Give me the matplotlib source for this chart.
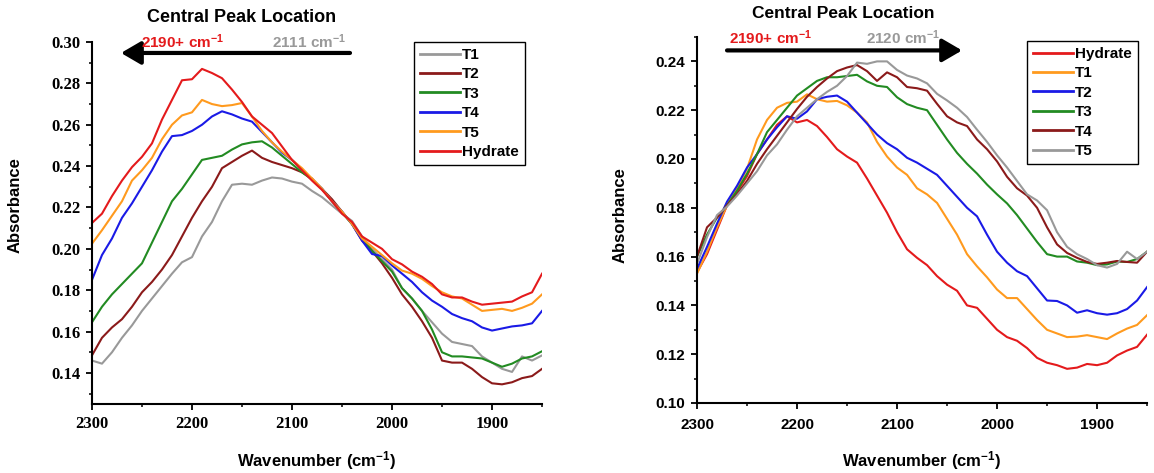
import numpy as np
import matplotlib
matplotlib.use("Agg")
import matplotlib.pyplot as plt
from matplotlib.ticker import MultipleLocator

plt.rcParams['font.family'] = ['Liberation Sans', 'DejaVu Sans']
plt.rcParams['mathtext.default'] = 'regular'

# wavenumber sampling (cm-1), same for all traces
wn = np.arange(2300, 1845, -10)

# ---- left panel ----
L_T1 = [.1460, .1445, .1500, .1570, .1630, .1700, .1760, .1820, .1880, .1935,
        .1960, .2060, .2130, .2230, .2310, .2315, .2310, .2330, .2345, .2340,
        .2325, .2315, .2280, .2250, .2210, .2170, .2135, .2060, .2000, .1950,
        .1900, .1810, .1760, .1700, .1645, .1590, .1550, .1540, .1530, .1480,
        .1450, .1420, .1405, .1480, .1460, .1485]
L_T2 = [.1485, .1570, .1620, .1660, .1720, .1790, .1840, .1900, .1970, .2060,
        .2150, .2230, .2300, .2390, .2420, .2450, .2475, .2440, .2420, .2405,
        .2390, .2370, .2340, .2290, .2240, .2180, .2120, .2040, .1990, .1930,
        .1860, .1780, .1720, .1650, .1570, .1460, .1450, .1450, .1420, .1380,
        .1350, .1345, .1355, .1375, .1385, .1420]
L_T3 = [.1645, .1720, .1780, .1830, .1880, .1930, .2030, .2130, .2230, .2290,
        .2360, .2430, .2440, .2450, .2480, .2505, .2515, .2520, .2490, .2450,
        .2410, .2370, .2335, .2290, .2230, .2175, .2120, .2050, .1990, .1940,
        .1890, .1810, .1760, .1700, .1610, .1500, .1480, .1480, .1475, .1470,
        .1450, .1430, .1445, .1470, .1480, .1505]
L_T4 = [.1850, .1970, .2050, .2150, .2220, .2300, .2380, .2470, .2545, .2550,
        .2570, .2600, .2640, .2665, .2650, .2630, .2615, .2565, .2515, .2465,
        .2430, .2385, .2335, .2290, .2230, .2180, .2120, .2040, .1975, .1965,
        .1920, .1880, .1840, .1790, .1750, .1720, .1685, .1665, .1650, .1620,
        .1605, .1615, .1625, .1630, .1640, .1700]
L_T5 = [.2025, .2090, .2160, .2230, .2330, .2380, .2440, .2530, .2600, .2645,
        .2660, .2720, .2700, .2690, .2695, .2705, .2640, .2570, .2515, .2470,
        .2430, .2390, .2340, .2290, .2230, .2180, .2120, .2050, .2010, .1970,
        .1930, .1895, .1880, .1855, .1820, .1790, .1770, .1760, .1730, .1700,
        .1705, .1710, .1700, .1715, .1735, .1780]
L_Hyd = [.2125, .2170, .2255, .2330, .2395, .2445, .2510, .2625, .2720, .2815,
         .2820, .2870, .2850, .2825, .2770, .2710, .2640, .2600, .2560, .2495,
         .2430, .2380, .2330, .2285, .2230, .2170, .2130, .2060, .2030, .2000,
         .1950, .1925, .1890, .1865, .1830, .1780, .1765, .1765, .1745, .1730,
         .1735, .1740, .1745, .1770, .1790, .1880]

# ---- right panel ----
R_Hyd = [.1535, .1610, .1710, .1810, .1865, .1930, .2020, .2080, .2140, .2175,
         .2150, .2160, .2135, .2090, .2040, .2010, .1985, .1920, .1850, .1780,
         .1700, .1630, .1595, .1565, .1520, .1485, .1460, .1400, .1390, .1345,
         .1300, .1270, .1255, .1225, .1185, .1165, .1155, .1140, .1145, .1160,
         .1155, .1165, .1195, .1215, .1230, .1280]
R_T1 = [.1530, .1620, .1720, .1810, .1880, .1960, .2080, .2160, .2210, .2230,
        .2235, .2265, .2245, .2235, .2238, .2220, .2190, .2150, .2070, .2010,
        .1965, .1935, .1880, .1855, .1820, .1755, .1690, .1610, .1560, .1515,
        .1465, .1430, .1430, .1385, .1340, .1300, .1285, .1270, .1272, .1278,
        .1270, .1262, .1285, .1305, .1320, .1360]
R_T2 = [.1550, .1640, .1735, .1825, .1890, .1965, .2020, .2080, .2130, .2175,
        .2165, .2195, .2245, .2255, .2260, .2235, .2190, .2145, .2100, .2065,
        .2040, .2005, .1985, .1960, .1935, .1890, .1845, .1800, .1765, .1690,
        .1620, .1575, .1540, .1520, .1470, .1420, .1418, .1400, .1370, .1380,
        .1368, .1362, .1368, .1385, .1420, .1475]
R_T3 = [.1600, .1690, .1760, .1810, .1870, .1940, .2020, .2110, .2160, .2210,
        .2260, .2290, .2320, .2335, .2335, .2340, .2345, .2318, .2300, .2295,
        .2253, .2225, .2210, .2200, .2140, .2080, .2025, .1980, .1940, .1895,
        .1855, .1818, .1770, .1715, .1660, .1610, .1600, .1600, .1580, .1575,
        .1565, .1568, .1580, .1578, .1590, .1620]
R_T4 = [.1600, .1720, .1760, .1810, .1855, .1910, .1980, .2040, .2095, .2150,
        .2205, .2255, .2295, .2330, .2360, .2375, .2385, .2360, .2320, .2355,
        .2335, .2295, .2290, .2280, .2226, .2175, .2150, .2135, .2080, .2040,
        .1990, .1927, .1880, .1850, .1800, .1720, .1650, .1615, .1595, .1578,
        .1570, .1575, .1582, .1578, .1575, .1620]
R_T5 = [.1570, .1680, .1770, .1805, .1850, .1900, .1950, .2015, .2060, .2120,
        .2175, .2210, .2245, .2275, .2300, .2340, .2395, .2390, .2400, .2400,
        .2365, .2342, .2330, .2310, .2267, .2240, .2210, .2172, .2120, .2070,
        .2015, .1965, .1910, .1855, .1830, .1790, .1700, .1640, .1610, .1590,
        .1565, .1555, .1570, .1620, .1590, .1620]

GRAY, DRED, GREEN, BLUE, ORANGE, RED = '#999999', '#8b1a1a', '#228b22', '#1a1ae6', '#ff9a1e', '#e41a1c'

left_series = [('T1', L_T1, GRAY), ('T2', L_T2, DRED), ('T3', L_T3, GREEN),
               ('T4', L_T4, BLUE), ('T5', L_T5, ORANGE), ('Hydrate', L_Hyd, RED)]
right_series = [('Hydrate', R_Hyd, RED), ('T1', R_T1, ORANGE), ('T2', R_T2, BLUE),
                ('T3', R_T3, GREEN), ('T4', R_T4, DRED), ('T5', R_T5, GRAY)]

fig = plt.figure(figsize=(11.54, 4.73), dpi=100)
axL = fig.add_axes([0.0797, 0.1459, 0.39, 0.7653])
axR = fig.add_axes([0.604, 0.148, 0.39, 0.7738])


def style_axis(ax, ylo, yhi, yticks, tick_font, tick_size, xpad):
    ax.set_xlim(2300, 1850)
    ax.set_ylim(ylo, yhi)
    ax.set_xticks([2300, 2200, 2100, 2000, 1900])
    ax.set_yticks(yticks)
    ax.xaxis.set_minor_locator(MultipleLocator(50))
    ax.yaxis.set_minor_locator(MultipleLocator(0.01))
    for s in ['top', 'right']:
        ax.spines[s].set_visible(False)
    for s in ['left', 'bottom']:
        ax.spines[s].set_linewidth(1.5)
    ax.tick_params(which='major', direction='out', length=4.5, width=1.3)
    ax.tick_params(which='minor', direction='out', length=2.5, width=1.1)
    ax.tick_params(axis='x', pad=xpad)
    ax.tick_params(axis='y', pad=4)
    ax.set_yticklabels(['%.2f' % t for t in yticks])
    for lab in ax.get_xticklabels() + ax.get_yticklabels():
        lab.set_fontfamily(tick_font)
        lab.set_fontweight('bold')
        lab.set_fontsize(tick_size)


for ax, series in [(axL, left_series), (axR, right_series)]:
    for name, vals, col in series:
        ax.plot(wn, vals, color=col, lw=1.5, label=name)

style_axis(axL, 0.125, 0.30, [0.14, 0.16, 0.18, 0.20, 0.22, 0.24, 0.26, 0.28, 0.30],
           ['Liberation Serif', 'DejaVu Serif'], 12, 4.5)
style_axis(axR, 0.10, 0.25, [0.10, 0.12, 0.14, 0.16, 0.18, 0.20, 0.22, 0.24],
           ['Liberation Sans', 'DejaVu Sans'], 11, 6)

# axis labels
for ax, ly, xy in [(axL, 0.55, -0.155), (axR, 0.514, -0.156)]:
    ax.set_ylabel('Absorbance', fontsize=12, fontweight='bold', va='center')
    ax.yaxis.set_label_coords(-0.171, ly)
    ax.set_xlabel('Wavenumber (cm$^{-1}$)', fontsize=12, fontweight='bold', va='center')
    ax.xaxis.set_label_coords(0.5, xy)

# legends
leg_kw = dict(frameon=True, fancybox=False, framealpha=1, edgecolor='black',
              prop={'family': 'Liberation Sans', 'weight': 'bold', 'size': 11},
              handlelength=2.6, handletextpad=0.15, labelspacing=0.35,
              borderpad=0.4, borderaxespad=0)
legL = axL.legend(loc='upper right', bbox_to_anchor=(0.962, 1.0), **leg_kw)
legR = axR.legend(loc='upper right', bbox_to_anchor=(0.98, 0.989), **leg_kw)
for leg in (legL, legR):
    leg.get_frame().set_linewidth(1.0)
    for h in leg.get_lines():
        h.set_linewidth(2.0)

# titles and peak-shift arrows
fig.text(0.2097, 0.964, 'Central Peak Location', ha='center', va='center',
         fontsize=13, fontweight='bold')
fig.text(0.7305, 0.9725, 'Central Peak Location', ha='center', va='center',
         fontsize=12.5, fontweight='bold')

arrow_kw = dict(arrowstyle='-|>,head_length=1.2,head_width=0.7', lw=3,
                color='black', shrinkA=0, shrinkB=0)
axL.annotate('', xy=(2271, 0.2947), xytext=(2042, 0.2947),
             arrowprops=arrow_kw, annotation_clip=False)
axL.text(2251, 0.300, '2190+ cm$^{-1}$', color=RED, fontsize=11, fontweight='bold',
         ha='left', va='center')
axL.text(2046, 0.300, '2111 cm$^{-1}$', color=GRAY, fontsize=11, fontweight='bold',
         ha='right', va='center')

axR.annotate('', xy=(2035, 0.2445), xytext=(2270, 0.2445),
             arrowprops=arrow_kw, annotation_clip=False)
axR.text(2268, 0.2498, '2190+ cm$^{-1}$', color=RED, fontsize=11, fontweight='bold',
         ha='left', va='center')
axR.text(2057, 0.2498, '2120 cm$^{-1}$', color=GRAY, fontsize=11, fontweight='bold',
         ha='right', va='center')

fig.savefig('out.png', dpi=100)
